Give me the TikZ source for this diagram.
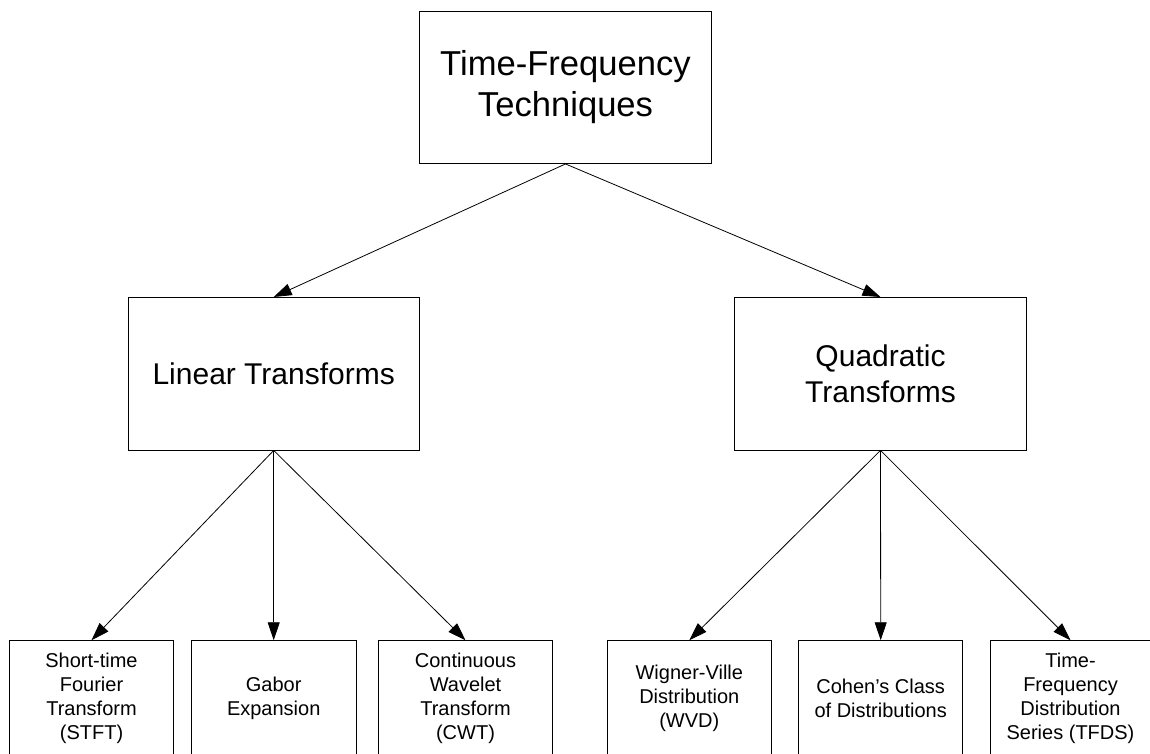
\documentclass[tikz,border=0pt]{standalone}
\usepackage{fontspec}
\setmainfont{Liberation Sans}
\usetikzlibrary{arrows.meta}
\begin{document}
\begin{tikzpicture}[x=1pt,y=-1pt,
  box/.style={draw=black,line width=0.9pt,rectangle,inner sep=0pt,align=center},
  topbox/.style={box,minimum width=292pt,minimum height=152pt,font=\fontsize{34.6}{41}\selectfont},
  midbox/.style={box,minimum width=291.5pt,minimum height=152.5pt,font=\fontsize{30}{36.5}\selectfont},
  leafbox/.style={box,minimum height=116pt,font=\fontsize{20}{24}\selectfont},
  conn/.style={draw=black,line width=0.8pt,-{Triangle[length=18pt,width=12pt]}}
]
\useasboundingbox (0,0) rectangle (1150,754);
\node[topbox] (top) at (565.5,87.5) {Time-Frequency\\Techniques};
\node[midbox] (lin) at (273.7,373.7) {Linear Transforms};
\node[midbox] (quad) at (880.5,373.7) {Quadratic\\Transforms};
\node[leafbox,minimum width=164pt] (stft) at (91.5,698.7) {Short-time\\Fourier\\Transform\\(STFT)};
\node[leafbox,minimum width=164.5pt] (gabor) at (273.7,698.7) {Gabor\\Expansion};
\node[leafbox,minimum width=173.5pt] (cwt) at (465.5,698.7) {Continuous\\Wavelet\\Transform\\(CWT)};
\node[leafbox,minimum width=164pt] (wvd) at (689.3,698.7) {Wigner-Ville\\Distribution\\(WVD)};
\node[leafbox,minimum width=164pt] (cohen) at (880.7,698.7) {Cohen’s Class\\of Distributions};
\node[leafbox,minimum width=161pt] (tfds) at (1070.5,698.7) {Time-\\Frequency\\Distribution\\Series (TFDS)};
\draw[conn] (top.south) -- (lin.north);
\draw[conn] (top.south) -- (quad.north);
\draw[conn] (lin.south) -- (stft.north);
\draw[conn] (lin.south) -- (gabor.north);
\draw[conn] (lin.south) -- (cwt.north);
\draw[conn] (quad.south) -- (wvd.north);
\draw[conn] (quad.south) -- (cohen.north);
\draw[conn] (quad.south) -- (tfds.north);
\end{tikzpicture}
\end{document}
